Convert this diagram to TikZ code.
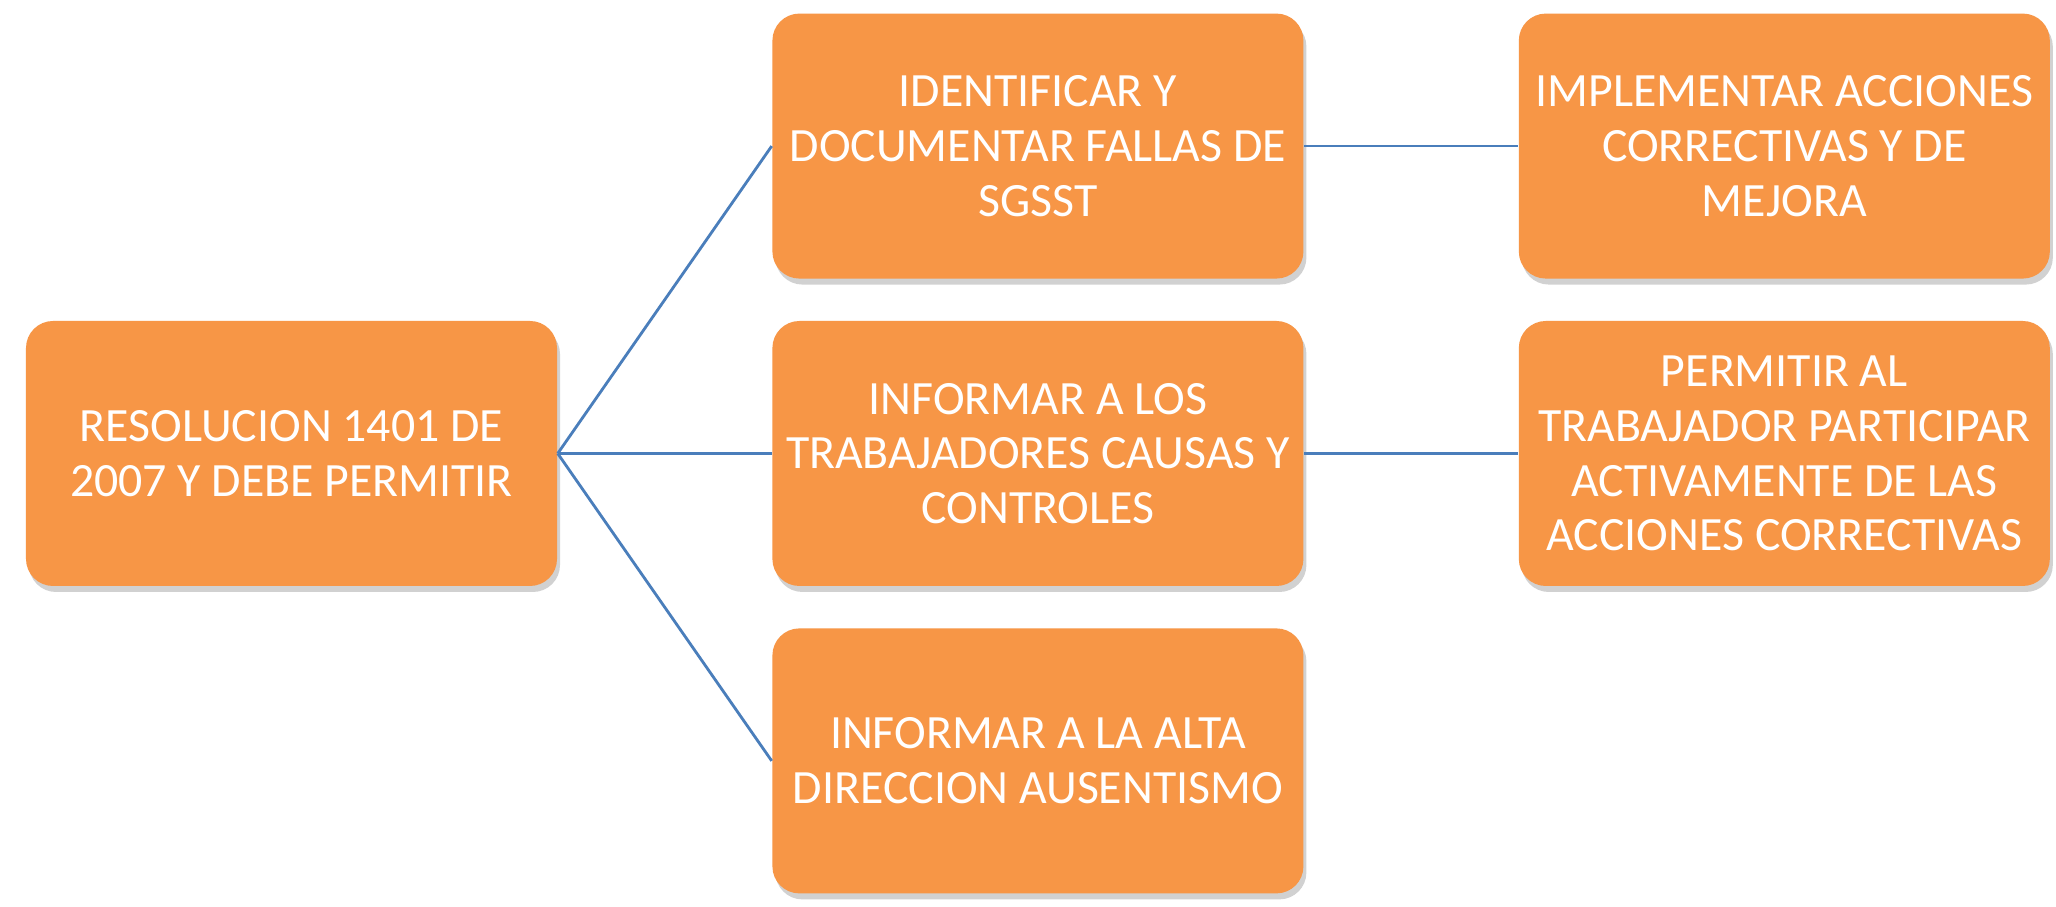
\documentclass[tikz,border=0pt]{standalone}
\usepackage{fontspec}
\setmainfont{Carlito}
\usepackage{xcolor}
\usepackage{tikz}
\usetikzlibrary{positioning,shadows,shapes}
\definecolor{boxorange}{HTML}{F79646}
\definecolor{linkblue}{HTML}{4A7EBB}
\tikzset{
  item/.style={rectangle,rounded corners=0.27cm,fill=boxorange,draw=none,
    minimum width=5.31cm,minimum height=2.65cm,inner sep=1pt,align=center,
    text=white,font=\fontsize{13.6}{15.6}\selectfont,
    drop shadow={shadow xshift=0.03cm,shadow yshift=-0.06cm,opacity=0.18,fill=black}
  },
  links/.style={
    every edge/.style={draw=linkblue,line width=0.8pt}
  },
  scheme/.style={
    node distance=0.41cm and 2.14cm,
    every node/.style={item}
  },
}

\begin{document}
\begin{tikzpicture}[scheme]
      \useasboundingbox[fill=white] (0,0) rectangle (20.56,9.07);
      \node (r) at (2.915,4.535) {RESOLUCION 1401 DE\\2007 Y DEBE PERMITIR};
      \node (a2) [right=of r] {INFORMAR A LOS\\TRABAJADORES CAUSAS Y\\CONTROLES};
      \node (a1) [above=of a2] {IDENTIFICAR Y\\DOCUMENTAR FALLAS DE\\SGSST};
      \node (a3) [below=of a2] {INFORMAR A LA ALTA\\DIRECCION AUSENTISMO};
      \node (b1) [right=of a1] {IMPLEMENTAR ACCIONES\\CORRECTIVAS Y DE\\MEJORA};
      \node (b2) [right=of a2] {PERMITIR AL\\TRABAJADOR PARTICIPAR\\ACTIVAMENTE DE LAS\\ACCIONES CORRECTIVAS};
      \path[links]
      (r.east) edge (a1.west)
      (r.east) edge (a2.west)
      (r.east) edge (a3.west)
      (a1.east) edge (b1.west)
      (a2.east) edge (b2.west)
      ;
    \end{tikzpicture}
\end{document}
